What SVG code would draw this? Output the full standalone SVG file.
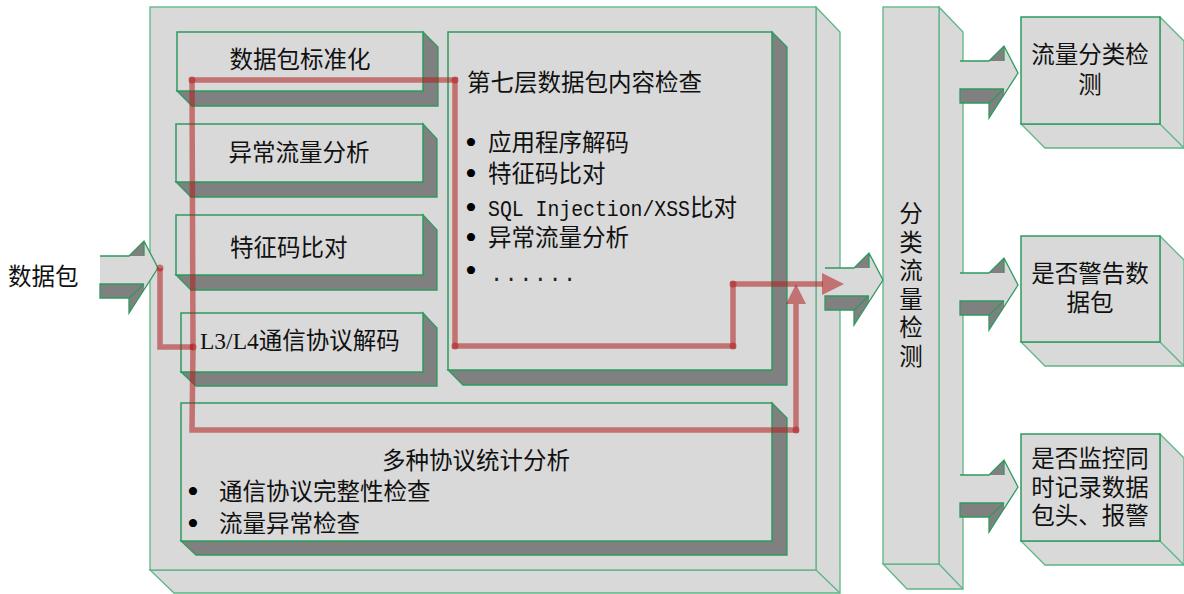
<svg xmlns="http://www.w3.org/2000/svg" width="1184" height="594" viewBox="0 0 1184 594">
<style>
.lf{fill:#d9d9d9;stroke:#2e9a5e;stroke-width:1.5;stroke-linejoin:miter}
.of{fill:#d9d9d9;stroke:#5cb685;stroke-width:1.3}
.dk{fill:#808080;stroke:#2e9a5e;stroke-width:1.3}
.t{font-family:"Noto Sans CJK SC","Liberation Sans",sans-serif;font-size:23.5px;fill:#111}
.ts{font-family:"Liberation Serif","Noto Sans CJK SC",serif;font-size:23.5px;fill:#111}
.tm{font-family:"Liberation Mono",monospace;font-size:22px}
.b{font-family:"Liberation Serif",serif;font-size:34px;fill:#000}
.c{text-anchor:middle}
.red{fill:none;stroke:#b01e1e;stroke-width:5.5;stroke-opacity:0.55;stroke-linecap:butt;stroke-linejoin:miter}
.rd{fill:#b01e1e;fill-opacity:0.55}
</style>
<defs>
<g id="blk">
<path d="M-58,-12 H-29 L-14,-27 L0,0 L-14,21.7 V16 H-58 Z" fill="#d9d9d9"/>
<path d="M-29,-12 L-14,-27 V-12 Z" fill="#808080"/>
<path d="M-58,16 H-14 V21.7 L-29,45 V30 H-58 Z" fill="#808080"/>
<path d="M-58,-12 H-29 L-14,-27 L0,0 L-29,45 V30 H-58 V16 H-14 M-29,30 L-14,16 M-14,-27 V-12" fill="none" stroke="#2e9a5e" stroke-width="1.3"/>
</g>
</defs>

<g id="outer">
<path class="of" d="M816,7 L840,32 V593 H174 L150,570 H816 Z"/>
<path class="of" d="M816,570 L840,593"/>
<rect class="of" x="150" y="7" width="666" height="563"/>
</g>

<g id="n-normalize">
<path class="dk" d="M423,32 L438,47 V106 H192 L177,91 H423 Z"/>
<rect class="lf" x="177" y="32" width="246" height="59"/>
<text class="t c" x="300" y="68">数据包标准化</text>
</g>
<g id="n-anomaly">
<path class="dk" d="M423,124 L437,139 V197 H191 L176,182 H423 Z"/>
<rect class="lf" x="176" y="124" width="247" height="58"/>
<text class="t c" x="299" y="161">异常流量分析</text>
</g>
<g id="n-signature">
<path class="dk" d="M423,215 L437,230 V290 H191 L176,275 H423 Z"/>
<rect class="lf" x="176" y="215" width="247" height="60"/>
<text class="t" x="230" y="256">特征码比对</text>
</g>
<g id="n-l3l4">
<path class="dk" d="M423,313 L437,328 V386 H196 L181,372 H423 Z"/>
<rect class="lf" x="181" y="313" width="242" height="59"/>
<text class="ts" x="200" y="349">L3/L4通信协议解码</text>
</g>
<g id="n-l7">
<path class="dk" d="M772,32 L787,47 V385 H463 L448,370 H772 Z"/>
<rect class="lf" x="448" y="32" width="324" height="338"/>
<text class="t" x="467" y="91">第七层数据包内容检查</text>
<text class="t" x="465" y="154"><tspan class="b">•</tspan><tspan x="488" dy="-3">应用程序解码</tspan></text>
<text class="t" x="465" y="185"><tspan class="b">•</tspan><tspan x="488" dy="-3">特征码比对</tspan></text>
<text class="t" x="465" y="219"><tspan class="b">•</tspan><tspan x="488" dy="-3" class="tm" textLength="202" lengthAdjust="spacingAndGlyphs">SQL Injection/XSS</tspan><tspan>比对</tspan></text>
<text class="t" x="465" y="249"><tspan class="b">•</tspan><tspan x="488" dy="-3">异常流量分析</tspan></text>
<text class="t" x="465" y="282"><tspan class="b">•</tspan><tspan x="490" dy="-1" class="tm" letter-spacing="1.4" fill="#222">......</tspan></text>
</g>
<g id="n-stats">
<path class="dk" d="M772,403 L787,418 V555 H196 L181,541 H772 Z"/>
<rect class="lf" x="181" y="403" width="591" height="138"/>
<text class="t" x="382" y="469">多种协议统计分析</text>
<text class="t" x="187" y="503"><tspan class="b">•</tspan><tspan x="219" dy="-3">通信协议完整性检查</tspan></text>
<text class="t" x="187" y="535"><tspan class="b">•</tspan><tspan x="219" dy="-3">流量异常检查</tspan></text>
</g>

<g id="n-classify">
<path class="of" d="M939,7 L963,32 V589 H907 L883,564 H939 Z"/>
<path class="of" d="M939,564 L963,589"/>
<rect class="of" x="883" y="7" width="56" height="557"/>
<text class="t c" x="911" y="222">分<tspan x="911" dy="28.5">类</tspan><tspan x="911" dy="28.5">流</tspan><tspan x="911" dy="28.5">量</tspan><tspan x="911" dy="28.5">检</tspan><tspan x="911" dy="28.5">测</tspan></text>
</g>

<g id="n-out1">
<path class="of" d="M1160,17 L1184,41 V148 H1045 L1021,124 H1160 Z"/>
<path class="of" d="M1160,124 L1184,148"/>
<rect class="of" x="1021" y="17" width="139" height="107" style="stroke:#2e9a5e;stroke-width:1.5"/>
<text class="t c" x="1090" y="63">流量分类检<tspan x="1090" dy="30">测</tspan></text>
</g>
<g id="n-out2">
<path class="of" d="M1160,236 L1184,260 V366 H1045 L1021,342 H1160 Z"/>
<path class="of" d="M1160,342 L1184,366"/>
<rect class="of" x="1021" y="236" width="139" height="106" style="stroke:#2e9a5e;stroke-width:1.5"/>
<text class="t c" x="1090" y="282">是否警告数<tspan x="1090" dy="29">据包</tspan></text>
</g>
<g id="n-out3">
<path class="of" d="M1160,434 L1184,458 V565 H1045 L1021,541 H1160 Z"/>
<path class="of" d="M1160,541 L1184,565"/>
<rect class="of" x="1021" y="434" width="139" height="107" style="stroke:#2e9a5e;stroke-width:1.5"/>
<text class="t c" x="1090" y="467">是否监控同<tspan x="1090" dy="28.5">时记录数据</tspan><tspan x="1090" dy="28.5">包头、报警</tspan></text>
</g>

<g id="n-input">
<text class="t" x="8" y="285">数据包</text>
</g>

<g id="connectors">
<use href="#blk" x="158" y="268"/>
<use href="#blk" x="883" y="280"/>
<use href="#blk" x="1018" y="73"/>
<use href="#blk" x="1018" y="285"/>
<use href="#blk" x="1018" y="487"/>
<polyline class="red" points="160,268 160,347 193,347"/>
<polyline class="red" points="193,347 192,80 455,80 455,346 733,346 733,284 823,284"/>
<polyline class="red" points="193,347 192,430 796,430 796,304"/>
<polygon class="rd" points="822,273 844,284 822,295"/>
<polygon class="rd" points="786,304 796,284 806,304"/>
<circle class="rd" cx="160" cy="268" r="3.5"/>
<circle class="rd" cx="193" cy="347" r="3.5"/>
<circle class="rd" cx="192" cy="80" r="3.5"/>
<circle class="rd" cx="455" cy="80" r="3.5"/>
<circle class="rd" cx="455" cy="346" r="3.5"/>
<circle class="rd" cx="733" cy="346" r="3.5"/>
<circle class="rd" cx="733" cy="284" r="3.5"/>
<circle class="rd" cx="796" cy="430" r="3.5"/>
</g>
</svg>
